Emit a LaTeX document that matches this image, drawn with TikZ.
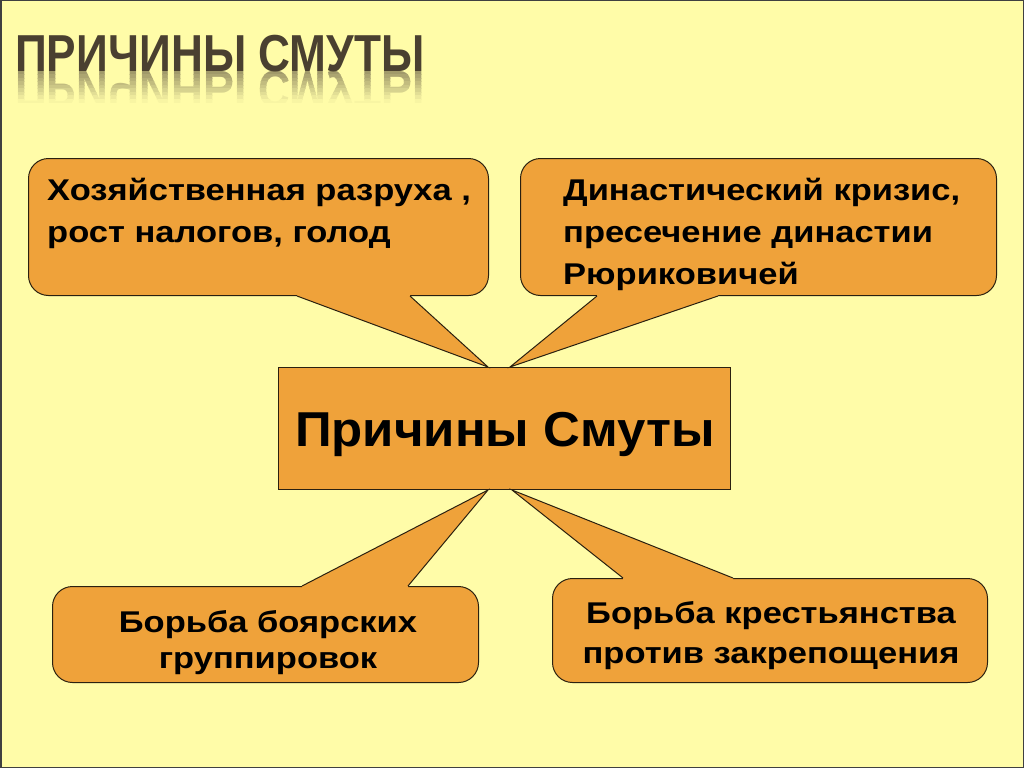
\documentclass[tikz,border=0pt]{standalone}
\usepackage{fontspec}
\setmainfont{Liberation Sans}
\newfontfamily\boxfont[FakeStretch=1.15]{Liberation Sans}
\newfontfamily\centerfont[FakeStretch=1.04]{Liberation Sans}
\usetikzlibrary{calc}
\definecolor{bg}{HTML}{FFFCA8}
\definecolor{org}{HTML}{EFA23A}
\definecolor{ttl}{HTML}{4A4030}
\definecolor{edge}{HTML}{2A2010}
\begin{document}
\begin{tikzpicture}[x=1pt,y=-1pt,
  box/.style={draw=edge, line width=1pt, fill=org, rounded corners=20pt, inner sep=0pt},
  cbox/.style={draw=edge, line width=1pt, fill=org, inner sep=0pt},
  tail/.style={draw=edge, line width=1pt, line join=miter},
  tailfill/.style={fill=org},
  txt/.style={font=\boxfont\fontsize{30}{42}\selectfont\bfseries, inner sep=0pt, text=black},
  ttlfont/.style={font=\fontsize{52}{60}\selectfont\bfseries, inner sep=0pt}]
\useasboundingbox (0,0) rectangle (1024,768);
\fill[bg] (0,0) rectangle (1024,768);
\draw[line width=1.5pt, black!75] (0.75,0.75) rectangle (1023.25,767.25);

% title reflection, drawn in bands that fade into the background
\foreach \i [evaluate=\i as \k using {int(52-6*\i)}] in {0,...,8} {
  \begin{scope}
    \clip (0,{71+3.5*\i}) rectangle (1024,{74.6+3.5*\i});
    \begin{scope}[shift={(0,71)}, yscale=-1]
      \node[ttlfont, text=ttl!\k!bg, anchor=base west, transform shape] at (15,0) {\scalebox{0.85}[1]{ПРИЧИНЫ СМУТЫ}};
    \end{scope}
  \end{scope}
}
% title
\node[ttlfont, text=ttl, anchor=base west] (title) at (15,71) {\scalebox{0.85}[1]{ПРИЧИНЫ СМУТЫ}};

% boxes
\node[box, anchor=north west, minimum width=460pt, minimum height=137pt] (b1) at (28,158) {};
\node[box, anchor=north west, minimum width=476pt, minimum height=137pt] (b2) at (520,158) {};
\node[cbox, anchor=north west, minimum width=452pt, minimum height=122pt] (c) at (278,367) {};
\node[box, anchor=north west, minimum width=426pt, minimum height=96pt] (b3) at (52,586) {};
\node[box, anchor=north west, minimum width=435pt, minimum height=104pt] (b4) at (552,578) {};

% tail tips on the centre box
\coordinate (p1) at ($(c.north west)+(210,0)$);
\coordinate (p2) at ($(c.north west)+(232,0)$);
\coordinate (p3) at ($(c.south west)+(210,0)$);
\coordinate (p4) at ($(c.south west)+(234,0)$);

% tail bases
\coordinate (a1) at ($(b1.south west)+(269,0)$);
\coordinate (a2) at ($(b1.south west)+(382,0)$);
\coordinate (a3) at ($(b2.south west)+(77,0)$);
\coordinate (a4) at ($(b2.south west)+(198,0)$);
\coordinate (a5) at ($(b3.north west)+(250,0)$);
\coordinate (a6) at ($(b3.north west)+(356,0)$);
\coordinate (a7) at ($(b4.north west)+(71,0)$);
\coordinate (a8) at ($(b4.north west)+(181,0)$);

% tails
\fill[tailfill] ($(a1)+(0,-4)$) -- (a1) -- (p1) -- (a2) -- ($(a2)+(0,-4)$) -- cycle;
\draw[tail] (a1) -- (p1) -- (a2);
\fill[tailfill] ($(a3)+(0,-4)$) -- (a3) -- (p2) -- (a4) -- ($(a4)+(0,-4)$) -- cycle;
\draw[tail] (a3) -- (p2) -- (a4);
\fill[tailfill] ($(a5)+(0,4)$) -- (a5) -- (p3) -- (a6) -- ($(a6)+(0,4)$) -- cycle;
\draw[tail] (a5) -- (p3) -- (a6);
\fill[tailfill] ($(a7)+(0,4)$) -- (a7) -- (p4) -- (a8) -- ($(a8)+(0,4)$) -- cycle;
\draw[tail] (a7) -- (p4) -- (a8);

% texts (anchor base = baseline of the last line)
\node[txt, anchor=base west, align=left] (t1) at (47,242) {Хозяйственная разруха ,\\рост налогов, голод};
\node[txt, anchor=base west, align=left] (t2) at (563,284) {Династический кризис,\\пресечение династии\\Рюриковичей};
\node[txt, font=\boxfont\fontsize{30}{36}\selectfont\bfseries, anchor=base, align=center] (t3) at (268,668) {Борьба боярских\\группировок};
\node[txt, font=\boxfont\fontsize{30}{40}\selectfont\bfseries, anchor=base, align=center] (t4) at (771,663) {Борьба крестьянства\\против закрепощения};
\node[inner sep=0pt, font=\centerfont\fontsize{49}{50}\selectfont\bfseries, anchor=base] (ct) at (505,446) {Причины Смуты};
\end{tikzpicture}
\end{document}
